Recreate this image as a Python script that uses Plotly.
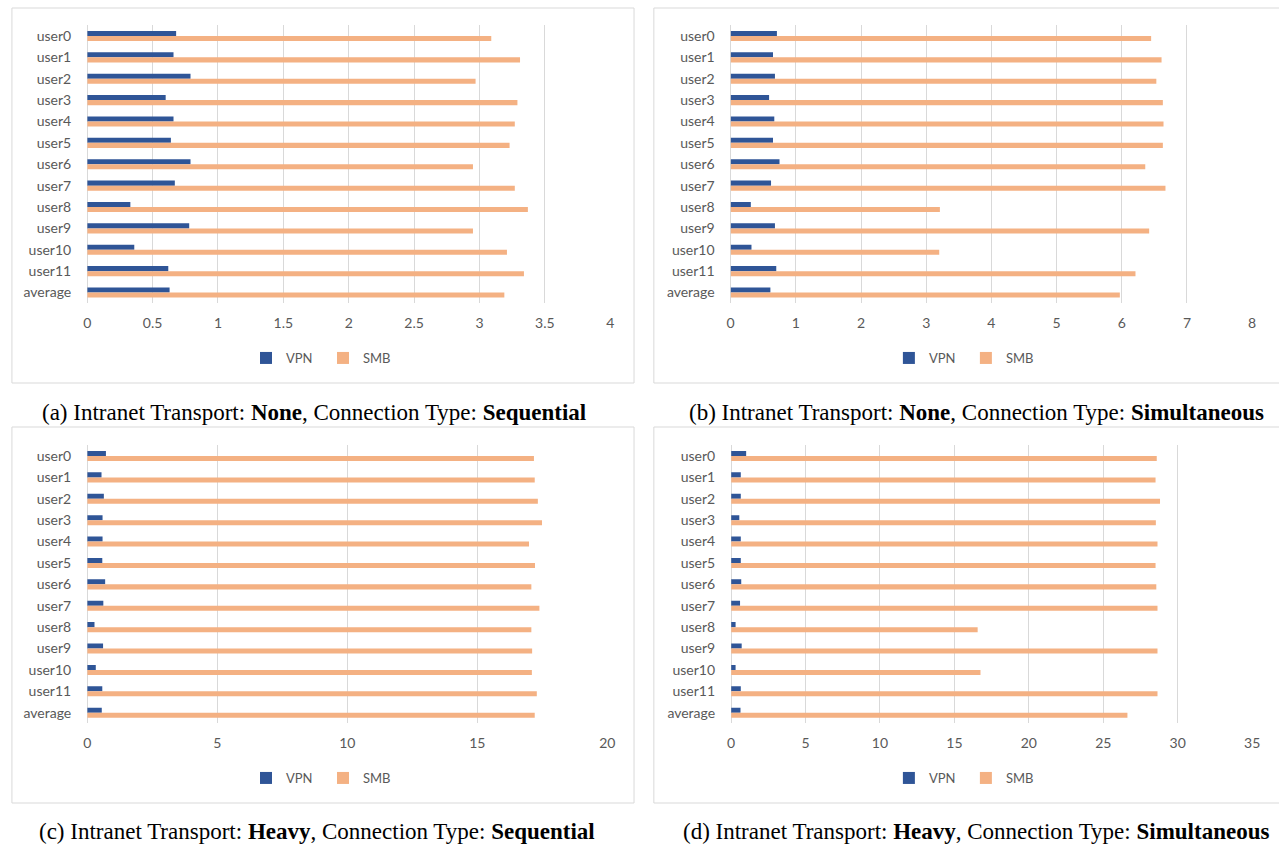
import plotly.graph_objects as go

categories = ["user0", "user1", "user2", "user3", "user4", "user5", "user6",
              "user7", "user8", "user9", "user10", "user11", "average"]

# (a) None / Sequential
vpn_a = [0.68, 0.66, 0.79, 0.60, 0.66, 0.64, 0.79, 0.67, 0.33, 0.78, 0.36, 0.62, 0.63]
smb_a = [3.09, 3.31, 2.97, 3.29, 3.27, 3.23, 2.95, 3.27, 3.37, 2.95, 3.21, 3.34, 3.19]
# (b) None / Simultaneous
vpn_b = [0.71, 0.65, 0.68, 0.59, 0.67, 0.65, 0.75, 0.62, 0.31, 0.68, 0.32, 0.70, 0.61]
smb_b = [6.45, 6.61, 6.53, 6.63, 6.64, 6.63, 6.36, 6.67, 3.21, 6.42, 3.20, 6.21, 5.97]
# (c) Heavy / Sequential
vpn_c = [0.72, 0.55, 0.64, 0.59, 0.59, 0.58, 0.69, 0.62, 0.28, 0.61, 0.33, 0.58, 0.56]
smb_c = [17.18, 17.21, 17.33, 17.49, 16.99, 17.22, 17.08, 17.39, 17.08, 17.11, 17.10, 17.29, 17.21]
# (d) Heavy / Simultaneous
vpn_d = [1.01, 0.65, 0.65, 0.55, 0.65, 0.65, 0.68, 0.60, 0.30, 0.71, 0.30, 0.65, 0.63]
smb_d = [28.59, 28.51, 28.81, 28.53, 28.64, 28.51, 28.56, 28.64, 16.56, 28.64, 16.75, 28.64, 26.62]

x_ranges = [[0, 4], [0, 8], [0, 20], [0, 35]]
x_dticks = [0.5, 1, 5, 5]
captions = [
    "(a) Intranet Transport: <b>None</b>, Connection Type: <b>Sequential</b>",
    "(b) Intranet Transport: <b>None</b>, Connection Type: <b>Simultaneous</b>",
    "(c) Intranet Transport: <b>Heavy</b>, Connection Type: <b>Sequential</b>",
    "(d) Intranet Transport: <b>Heavy</b>, Connection Type: <b>Simultaneous</b>",
]
series = [(vpn_a, smb_a), (vpn_b, smb_b), (vpn_c, smb_c), (vpn_d, smb_d)]

W, H = 1279, 846
VPN_COLOR = "#2F5597"
SMB_COLOR = "#F4B183"
GRID = "#D9D9D9"
TXT = "#595959"
TICK_FONT = dict(family="Lato, Open Sans, sans-serif", size=14, color=TXT)
LEG_FONT = dict(family="Lato, Open Sans, sans-serif", size=13, color=TXT)


def px(x):
    return x / W


def py(y):
    return 1 - y / H


# panel geometry in pixels: plot-area left/right, top/bottom, box, caption, legend
panels = [
    dict(x0=84, x1=612, y0=25.3, y1=303.2, box=(8, 8, 636, 383), cap=(313, 412), leg=(322, 358)),
    dict(x0=733.5, x1=1260, y0=25.3, y1=303.2, box=(656, 8, 1290, 383), cap=(982, 412), leg=(971, 358)),
    dict(x0=84, x1=609, y0=445.3, y1=723.4, box=(8, 427, 636, 803), cap=(316, 831), leg=(322, 778)),
    dict(x0=734, x1=1260, y0=445.3, y1=723.4, box=(656, 427, 1290, 803), cap=(981, 831), leg=(971, 778)),
]

fig = go.Figure()
layout = dict(
    width=W, height=H,
    margin=dict(l=0, r=0, t=0, b=0),
    paper_bgcolor="white", plot_bgcolor="white",
    barmode="group", bargap=0.53, bargroupgap=0,
    shapes=[], annotations=[],
)

for i, (p, (vpn, smb)) in enumerate(zip(panels, series)):
    n = "" if i == 0 else str(i + 1)
    xa, ya = "x" + n, "y" + n
    leg = "legend" + n
    fig.add_trace(go.Bar(y=categories, x=vpn, orientation="h", name="VPN",
                         marker=dict(color=VPN_COLOR, line=dict(width=0)),
                         xaxis=xa, yaxis=ya, legend=leg))
    fig.add_trace(go.Bar(y=categories, x=smb, orientation="h", name="SMB",
                         marker=dict(color=SMB_COLOR, line=dict(width=0)),
                         xaxis=xa, yaxis=ya, legend=leg))
    layout["xaxis" + n] = dict(
        domain=[px(p["x0"]), px(p["x1"])], anchor=ya,
        range=x_ranges[i], dtick=x_dticks[i], tick0=0,
        showgrid=True, gridcolor=GRID, gridwidth=1,
        zeroline=True, zerolinecolor=GRID, zerolinewidth=1,
        showline=False, ticks="", tickfont=TICK_FONT, ticklabelstandoff=10,
        fixedrange=True,
    )
    layout["yaxis" + n] = dict(
        domain=[py(p["y1"]), py(p["y0"])], anchor=xa,
        type="category", categoryorder="array", categoryarray=categories,
        autorange="reversed", showgrid=False, zeroline=False, showline=False,
        ticks="", tickfont=TICK_FONT, ticklabelstandoff=15, fixedrange=True,
    )
    layout[leg] = dict(
        orientation="h", x=px(p["leg"][0]), xanchor="center",
        y=py(p["leg"][1]), yanchor="middle", font=LEG_FONT,
        bgcolor="rgba(0,0,0,0)", itemwidth=30, traceorder="normal",
        entrywidth=32, entrywidthmode="pixels",
    )
    bx0, by0, bx1, by1 = p["box"]
    layout["shapes"].append(dict(
        type="rect", xref="paper", yref="paper",
        x0=px(bx0), x1=px(bx1), y0=py(by1), y1=py(by0),
        line=dict(color=GRID, width=1), fillcolor="rgba(0,0,0,0)", layer="below",
    ))
    layout["annotations"].append(dict(
        text=captions[i], xref="paper", yref="paper",
        x=px(p["cap"][0]), y=py(p["cap"][1]), xanchor="center", yanchor="middle",
        showarrow=False,
        font=dict(family="Liberation Serif, Times New Roman, serif", size=23, color="black"),
    ))

fig.update_layout(**layout)
fig.write_html(
    "out.html",
    config={"displayModeBar": False},
    post_script="document.body.style.margin='0';document.body.style.overflow='hidden';",
)
